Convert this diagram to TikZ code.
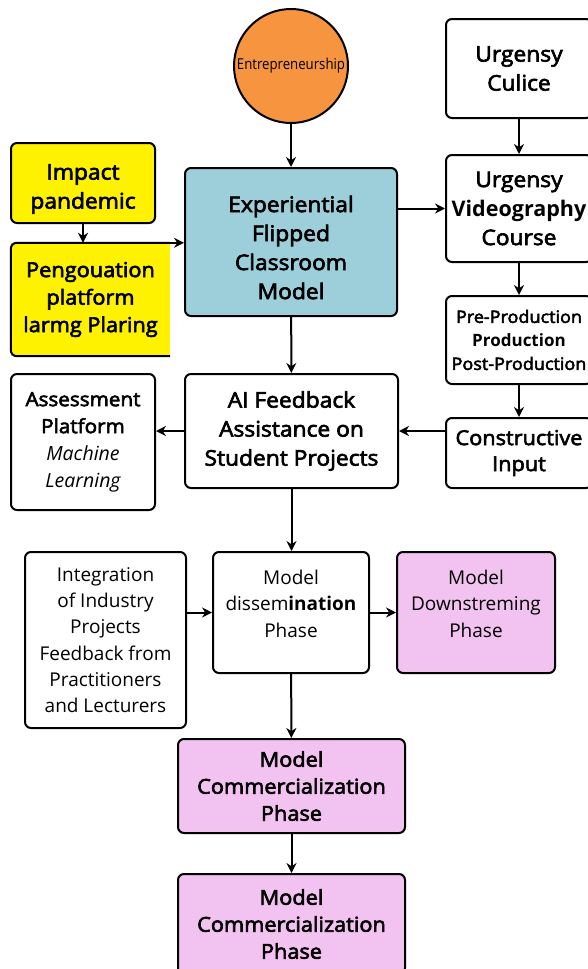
\documentclass[tikz,border=0pt]{standalone}
\usepackage{fontspec}
\setmainfont{Open Sans}
\newfontfamily\medfont{Open Sans}[FakeBold=3, FakeStretch=1.06]
\newfontfamily\narrowfont{Open Sans}[FakeStretch=0.88]
\newcommand\heavy[1]{{\rmfamily\bfseries #1}}
\usetikzlibrary{arrows.meta}

\definecolor{entorange}{HTML}{F7943F}
\definecolor{padyellow}{HTML}{FFF200}
\definecolor{flipblue}{HTML}{9DCFDB}
\definecolor{phasepink}{HTML}{F2C3F0}

\begin{document}
\begin{tikzpicture}[
  x=1pt, y=-1pt,
  box/.style={draw, rounded corners=6pt, line width=2pt, align=center, inner sep=2pt},
  big/.style={font=\medfont\fontsize{21.5}{29}\selectfont},
  mid/.style={font=\medfont\fontsize{19.5}{27}\selectfont},
  small/.style={font=\medfont\fontsize{17}{23.5}\selectfont},
  arr/.style={draw, line width=2pt, -{Stealth[length=10pt,width=10pt]}}
]
\useasboundingbox (0,0) rectangle (588,969);
\clip (0,0) rectangle (588,969);

% top row
\node[circle, draw, line width=2pt, fill=entorange, minimum size=114pt, inner sep=0pt,
      font=\narrowfont\fontsize{15}{17}\selectfont] (ent) at (291,66) {Entrepreneurship};
\node[box, big, fill=padyellow, minimum width=144pt, minimum height=80pt] (imp) at (83,183) {\strut\\[-22pt]Impact\\pandemic};
\node[fill=padyellow, align=center, font=\medfont\fontsize{20.5}{27.5}\selectfont,
      minimum width=159pt, minimum height=113pt] (peng) at (90.5,299.5)
  {Pengouation\\platform\\larmg Plaring};
\draw[line width=2pt, rounded corners=6pt] (peng.north east) -- (peng.north west) -- (peng.south west) -- (peng.south east);
\node[box, big, fill=flipblue, minimum width=212pt, minimum height=148pt] (exp) at (291,242)
  {\strut\\[-22pt]Experiential\\Flipped\\Classroom\\Model};

% right column
\node[box, big, minimum width=146pt, minimum height=99pt] (cul) at (519,68.5) {Urgensy\\Culice};
\node[box, big, minimum width=146pt, minimum height=107pt] (vid) at (519,208.5) {Urgensy\\\heavy{Videography}\\Course};
\node[box, small, minimum width=146pt, minimum height=88pt] (pre) at (519,340)
  {Pre-Production\\\heavy{Production}\\Post-Production};
\node[box, font=\medfont\fontsize{20.5}{26}\selectfont, minimum width=146pt, minimum height=70pt] (con) at (519,453)
  {Constructive\\Input};

% feedback row
\node[box, big, minimum width=213pt, minimum height=114pt] (ai) at (291.5,431)
  {AI Feedback\\Assistance on\\Student Projects};
\node[box, mid, minimum width=144pt, minimum height=136pt] (ass) at (83,442)
  {Assessment\\Platform\\\rmfamily\itshape Machine\\\rmfamily\itshape Learning};

% phases
\node[box, font=\fontsize{19}{26.3}\selectfont, minimum width=161pt, minimum height=176pt] (int) at (105.5,640)
  {Integration\\of Industry\\Projects\\Feedback from\\Practitioners\\and Lecturers};
\node[box, font=\fontsize{19}{26.5}\selectfont, minimum width=156pt, minimum height=121pt] (dis) at (291,612.5)
  {Model\\dissem\textbf{ination}\\Phase\\[-16pt]\strut};
\node[box, font=\fontsize{19}{26.5}\selectfont, fill=phasepink, minimum width=158pt, minimum height=121pt] (dow) at (476,612.5)
  {Model\\Downstreming\\Phase\\[-16pt]\strut};
\node[box, font=\medfont\fontsize{20.5}{27}\selectfont, fill=phasepink, minimum width=227pt, minimum height=94pt] (com1) at (291.5,786)
  {Model\\Commercialization\\Phase};
\node[box, font=\medfont\fontsize{20.5}{27}\selectfont, fill=phasepink, minimum width=227pt, minimum height=100pt] (com2) at (291.5,924)
  {Model\\Commercialization\\Phase};

% connectors
\draw[arr] (ent) -- (exp);
\draw[arr] (imp.south) -- (peng.north -| imp.south);
\draw[arr] (peng.north east) -- (exp.west |- peng.north);
\draw[arr] (exp.east |- vid.west) -- (vid.west);
\draw[arr] (cul) -- (vid);
\draw[arr] (vid) -- (pre);
\draw[arr] (pre) -- (con);
\draw[arr] (con.west |- ai.east) -- (ai.east);
\draw[arr] (exp) -- (ai);
\draw[arr] (ai.west) -- (ass.east |- ai.west);
\draw[arr] (ai.south) -- (dis.north -| ai.south);
\draw[arr] (int.east |- dis.west) -- (dis.west);
\draw[arr] (dis) -- (dow);
\draw[arr] (dis) -- (com1);
\draw[arr] (com1) -- (com2);
\end{tikzpicture}
\end{document}
